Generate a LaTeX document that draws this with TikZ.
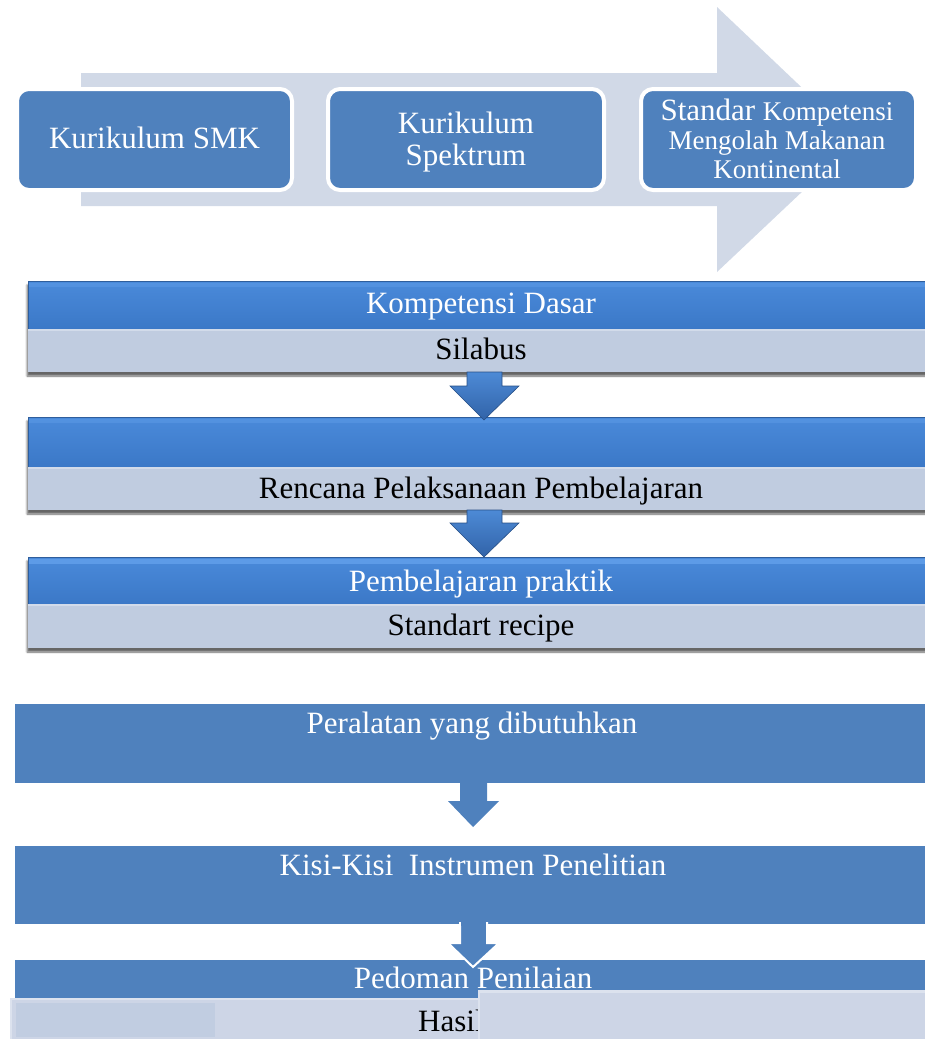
\documentclass[tikz,border=0pt]{standalone}
\usepackage{fontspec}
\setmainfont{Liberation Serif}
\usetikzlibrary{shadows.blur}
\definecolor{bigarrow}{HTML}{D1D9E7}
\definecolor{boxblue}{HTML}{4F81BD}
\definecolor{barblueT}{HTML}{4A8ADA}
\definecolor{barblueB}{HTML}{3B78C7}
\definecolor{barhi}{HTML}{66A4EE}
\definecolor{barline}{HTML}{2F5E9C}
\definecolor{bargray}{HTML}{C0CCE0}
\definecolor{bargrayhi}{HTML}{D2DBEA}
\definecolor{lightbar}{HTML}{CDD5E6}
\definecolor{lightedge}{HTML}{DCE2EE}
\definecolor{innerbar}{HTML}{C1CDE1}
\definecolor{arrowT}{HTML}{4D8AD6}
\definecolor{arrowB}{HTML}{3163A8}
\tikzset{
  txtw/.style={text=white, inner sep=0pt, anchor=base, font=\fontsize{31}{34}\selectfont},
  txtk/.style={text=black, inner sep=0pt, anchor=base, font=\fontsize{31}{34}\selectfont},
  topbox/.style={fill=boxblue, draw=white, line width=4pt, rounded corners=12pt},
  bluebar/.style={top color=barblueT, bottom color=barblueB},
  graybar/.style={fill=bargray},
  barshadow/.style={blur shadow={shadow xshift=-1pt, shadow yshift=-4pt, shadow opacity=60, shadow blur steps=6}},
  midarrow/.style={top color=arrowT, bottom color=arrowB, draw=arrowB!80!black, line width=0.6pt},
  flatarrow/.style={fill=boxblue},
  flatblock/.style={fill=boxblue},
}
\begin{document}
\begin{tikzpicture}[x=1pt,y=-1pt]
\useasboundingbox (0,0) rectangle (925,1039);
\clip (0,0) rectangle (925,1039);

% ---------- top big arrow ----------
\fill[bigarrow] (81,73) -- (717,73) -- (717,7) -- (857,140) -- (717,272) -- (717,206) -- (81,206) -- cycle;

\draw[topbox] (17,89) rectangle (292,190);
\draw[topbox] (328,89) rectangle (604,190);
\draw[topbox] (641,89) rectangle (916,190);

\node[txtw] (smk) at (154.5,148) {Kurikulum SMK};
\node[txtw] (spek1) at (466,133) {Kurikulum};
\node[txtw] (spek2) at (466,165) {Spektrum};
\node[txtw] (sk1) at (777,120) {Standar {\fontsize{27}{30}\selectfont Kompetensi}};
\node[txtw, font=\fontsize{27}{30}\selectfont] (sk2) at (777,149) {Mengolah Makanan};
\node[txtw, font=\fontsize{27}{30}\selectfont] (sk3) at (777,178) {Kontinental};

% ---------- middle glossy groups ----------
% group 1
\fill[bargray, barshadow] (28,281) rectangle (940,372);
\fill[bluebar] (28,281) rectangle (940,329);
\fill[barhi, opacity=0.35] (28,283) rectangle (940,287);
\draw[barline, line width=1pt] (28,329) -- (28,281) -- (940,281);
\fill[graybar] (28,329) rectangle (940,372);
\fill[bargrayhi] (28,329) rectangle (940,331);
\node[txtw] (kd) at (481,313) {Kompetensi Dasar};
\node[txtk] (sil) at (481,359) {Silabus};

% group 2
\fill[bargray, barshadow] (28,417) rectangle (940,510);
\fill[bluebar] (28,417) rectangle (940,467);
\fill[barhi, opacity=0.35] (28,419) rectangle (940,423);
\draw[barline, line width=1pt] (28,467) -- (28,417) -- (940,417);
\fill[graybar] (28,467) rectangle (940,510);
\fill[bargrayhi] (28,467) rectangle (940,469);
\node[txtk] (rpp) at (481,498) {Rencana Pelaksanaan Pembelajaran};

% group 3
\fill[bargray, barshadow] (28,557) rectangle (940,648);
\fill[bluebar] (28,557) rectangle (940,604);
\fill[barhi, opacity=0.7] (28,559) rectangle (940,564);
\draw[barline, line width=1pt] (28,604) -- (28,557) -- (940,557);
\fill[graybar] (28,604) rectangle (940,648);
\fill[bargrayhi] (28,604) rectangle (940,606);
\node[txtw] (bp) at (481,591) {Pembelajaran praktik};
\node[txtk] (sr) at (481,635) {Standart recipe};

% middle arrows
\draw[midarrow] (467,372) -- (502,372) -- (502,386) -- (519,386) -- (484,420) -- (450,386) -- (467,386) -- cycle;
\draw[midarrow] (467,510) -- (502,510) -- (502,523) -- (519,523) -- (484,557) -- (450,523) -- (467,523) -- cycle;

% ---------- bottom flat blocks ----------
\fill[flatblock] (15,704) rectangle (925,783);
\node[txtw] (alat) at (472,733) {Peralatan yang dibutuhkan};
\fill[flatarrow] (460,782) -- (487,782) -- (487,801) -- (499,801) -- (473,827) -- (448,801) -- (460,801) -- cycle;

\fill[flatblock] (15,846) rectangle (925,924);
\node[txtw] (kisi) at (473,875) {Kisi-Kisi~ Instrumen Penelitian};

\fill[flatblock] (15,960) rectangle (925,998);
\node[txtw] (ped) at (473,988) {Pedoman Penilaian};
\draw[flatarrow, draw=white, line width=2pt] (460,923) -- (487,923) -- (487,943) -- (499,943) -- (473,967) -- (448,943) -- (460,943) -- cycle;
\fill[flatarrow] (461,920) rectangle (486,926);

% bottom light strips
\fill[lightedge] (10,998) rectangle (925,1039);
\fill[lightbar] (12,1000) rectangle (925,1039);
\fill[innerbar] (16,1003) rectangle (215,1037);
\node[txtk, anchor=base west] (hasil) at (418,1031) {Hasil};
\fill[lightedge] (478,990) rectangle (925,1039);
\fill[lightbar] (480,993) rectangle (925,1039);
\end{tikzpicture}
\end{document}
